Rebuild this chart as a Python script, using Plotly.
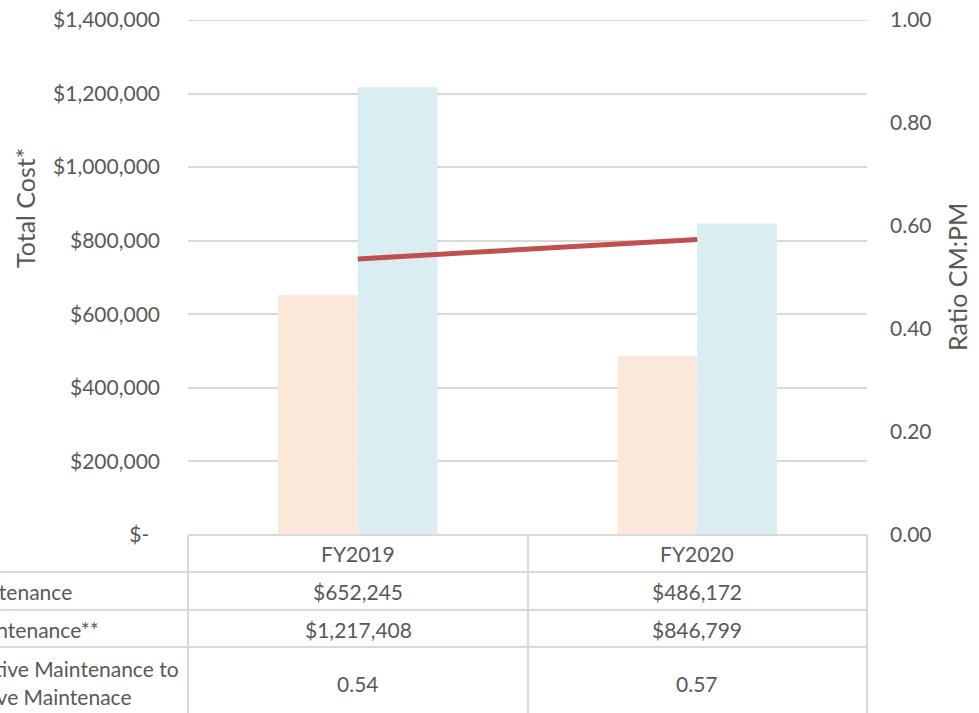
import plotly.graph_objects as go

# ---- data ----
categories = ["FY2019", "FY2020"]
corrective_cost = [652245, 486172]
preventive_cost = [1217408, 846799]
ratio_cm_pm = [0.536, 0.574]
row_labels = ["Corrective Maintenance", "Preventive Maintenance**"]
ratio_label_lines = ["Ratio of Corrective Maintenance to", "Preventive Maintenace"]
left_tick_vals = [0, 200000, 400000, 600000, 800000, 1000000, 1200000, 1400000]
left_tick_text = ["$-\u00a0\u00a0", "$200,000", "$400,000", "$600,000", "$800,000",
                  "$1,000,000", "$1,200,000", "$1,400,000"]
right_tick_vals = [0, 0.2, 0.4, 0.6, 0.8, 1.0]

# ---- layout geometry (pixels) ----
W, H = 979, 713
PX0, PX1, PY0, PY1 = 188, 867, 20, 535   # plot area left, right, top, bottom


def px(x):
    return (x - PX0) / (PX1 - PX0)


def py(y):
    return (PY1 - y) / (PY1 - PY0)


FONT = "Lato"
GREY = "#595959"
LINEC = "#D9D9D9"
FS = 21
TFS = 25

fig = go.Figure()
fig.add_trace(go.Bar(x=categories, y=corrective_cost, marker_color="#FCE8DA",
                     marker_line_width=0, name="Corrective Maintenance"))
fig.add_trace(go.Bar(x=categories, y=preventive_cost, marker_color="#DAEDF3",
                     marker_line_width=0, name="Preventive Maintenance**"))
fig.add_trace(go.Scatter(x=categories, y=ratio_cm_pm, yaxis="y2", mode="lines",
                         line=dict(color="#C0504D", width=5), name="Ratio"))

fig.update_layout(
    width=W, height=H,
    margin=dict(l=PX0, r=W - PX1, t=PY0, b=H - PY1, pad=0, autoexpand=False),
    paper_bgcolor="white", plot_bgcolor="white",
    showlegend=False, hovermode=False,
    barmode="group", bargap=0.53, bargroupgap=0,
    font=dict(family=FONT, size=FS, color=GREY),
    xaxis=dict(showticklabels=False, showgrid=False, zeroline=False, showline=False,
               ticks="", automargin=False),
    yaxis=dict(range=[0, left_tick_vals[-1]], tickvals=left_tick_vals, ticktext=left_tick_text,
               showgrid=True, gridcolor=LINEC, gridwidth=2, zeroline=False,
               showline=False, ticks="", ticklabelstandoff=27, automargin=False,
               tickfont=dict(family=FONT, size=FS, color=GREY)),
    yaxis2=dict(range=[0, 1.0], tickvals=right_tick_vals, tickformat=".2f",
                overlaying="y", side="right", showgrid=False, zeroline=False,
                showline=False, ticks="", ticklabelstandoff=22, automargin=False,
                tickfont=dict(family=FONT, size=FS, color=GREY)),
)

shapes = []
# top gridline (at range edge)
shapes.append(dict(type="line", xref="paper", yref="y", x0=0, x1=1,
                   y0=left_tick_vals[-1], y1=left_tick_vals[-1],
                   line=dict(color=LINEC, width=2), layer="below"))
# table borders
shapes.append(dict(type="line", xref="paper", yref="paper", x0=px(PX0), x1=px(PX1),
                   y0=py(535), y1=py(535), line=dict(color=LINEC, width=2)))
for yy in [572, 610, 647]:
    shapes.append(dict(type="line", xref="paper", yref="paper", x0=px(-10), x1=px(PX1),
                       y0=py(yy), y1=py(yy), line=dict(color=LINEC, width=2)))
for xx in [188, 528, 867]:
    shapes.append(dict(type="line", xref="paper", yref="paper", x0=px(xx), x1=px(xx),
                       y0=py(535), y1=py(720), line=dict(color=LINEC, width=2)))
fig.update_layout(shapes=shapes)

ann = []


def text(x, y, s, xanchor="center", angle=0, size=FS):
    ann.append(dict(xref="paper", yref="paper", x=px(x), y=py(y), text=s,
                    showarrow=False, xanchor=xanchor, yanchor="middle",
                    textangle=angle, font=dict(family=FONT, size=size, color=GREY)))


col_centers = [358, 697]
for i, cat in enumerate(categories):
    cx = col_centers[i]
    text(cx, 553, cat)
    text(cx, 591, "${:,.0f}".format(corrective_cost[i]))
    text(cx, 629, "${:,.0f}".format(preventive_cost[i]))
    text(cx, 683, "{:.2f}".format(ratio_cm_pm[i]))

text(74, 591, row_labels[0], xanchor="right")
text(101, 629, row_labels[1], xanchor="right")
text(181, 668, ratio_label_lines[0], xanchor="right")
text(134, 696, ratio_label_lines[1], xanchor="right")

text(25, 208, "Total Cost*", angle=-90, size=TFS)
text(957, 277, "Ratio CM:PM", angle=-90, size=TFS)

fig.update_layout(annotations=ann)
fig.write_html("out.html",
               config={"displayModeBar": False, "staticPlot": True},
               post_script="document.body.style.margin='0';"
                           "document.body.style.overflow='hidden';")
